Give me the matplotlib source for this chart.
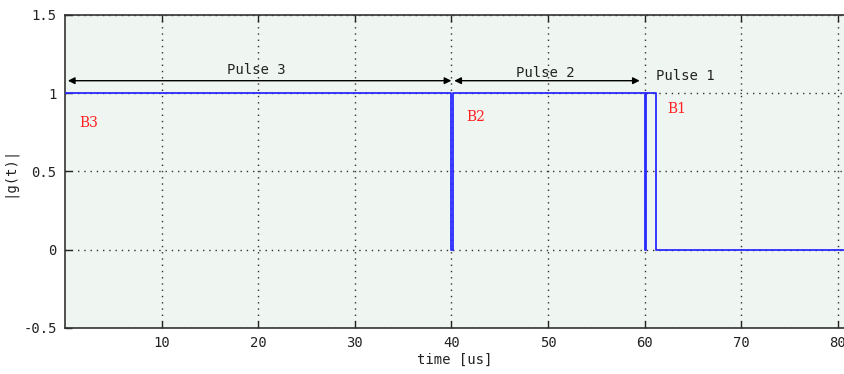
import matplotlib
matplotlib.use("Agg")
import matplotlib.pyplot as plt

# Envelope |g(t)| of three back-to-back pulses (time in microseconds)
t_us = [0, 40.0, 40.0, 40.2, 40.2, 60.0, 60.0, 60.2, 60.2, 61.2, 61.2, 80.75]
g_abs = [1, 1, 0, 0, 1, 1, 0, 0, 1, 1, 0, 0]

x_ticks = [10, 20, 30, 40, 50, 60, 70, 80]
y_ticks = [-0.5, 0, 0.5, 1, 1.5]
y_tick_labels = ["-0.5", "0", "0.5", "1", "1.5"]

# Pulse spans shown with double arrows, and the block labels
pulse_names = ["Pulse 3", "Pulse 2", "Pulse 1"]
pulse_spans = [(0.3, 40.0), (40.3, 59.5), None]
pulse_text_pos = [(19.8, 1.15), (49.7, 1.13), (61.2, 1.11)]
block_names = ["B3", "B2", "B1"]
block_pos = [(1.5, 0.81), (41.5, 0.85), (62.4, 0.90)]

plt.rcParams["font.family"] = ["DejaVu Sans Mono"]
fig = plt.figure(figsize=(8.45, 3.74), dpi=100)
ax = fig.add_axes([0.0769, 0.123, 0.9231, 0.837])
ax.set_facecolor("#eff5f1")

ax.plot(t_us, g_abs, color="#2a2aff", lw=1.3, zorder=3)

ax.set_xlim(0, 80.75)
ax.set_ylim(-0.5, 1.5)
ax.set_xticks(x_ticks)
ax.set_yticks(y_ticks)
ax.set_yticklabels(y_tick_labels)
ax.tick_params(direction="in", length=5, width=1, top=True, right=False,
               labelsize=10, colors="#222222", pad=6)
ax.grid(True, color="#333333", linestyle=(0, (1, 3.5)), linewidth=1.0)
for side in ["left", "bottom", "top"]:
    ax.spines[side].set_color("#333333")
    ax.spines[side].set_linewidth(1.2)
ax.spines["right"].set_visible(False)

ax.set_xlabel("time [us]", fontsize=10, color="#222222", labelpad=2)
ax.set_ylabel("|g(t)|", fontsize=10, color="#222222", labelpad=5)

for name, span, (tx, ty) in zip(pulse_names, pulse_spans, pulse_text_pos):
    if span is not None:
        ax.annotate("", xy=(span[0], 1.08), xytext=(span[1], 1.08),
                    arrowprops=dict(arrowstyle="<|-|>", color="black", lw=1.0,
                                    mutation_scale=10, shrinkA=0, shrinkB=0))
        ax.text(tx, ty, name, ha="center", va="center", fontsize=10, color="#222222")
    else:
        ax.text(tx, ty, name, ha="left", va="center", fontsize=10, color="#222222")

for name, (bx, by) in zip(block_names, block_pos):
    ax.text(bx, by, name, ha="left", va="center", fontsize=10,
            color="#ff2020", family="DejaVu Serif")

fig.savefig("out.png", dpi=100)
